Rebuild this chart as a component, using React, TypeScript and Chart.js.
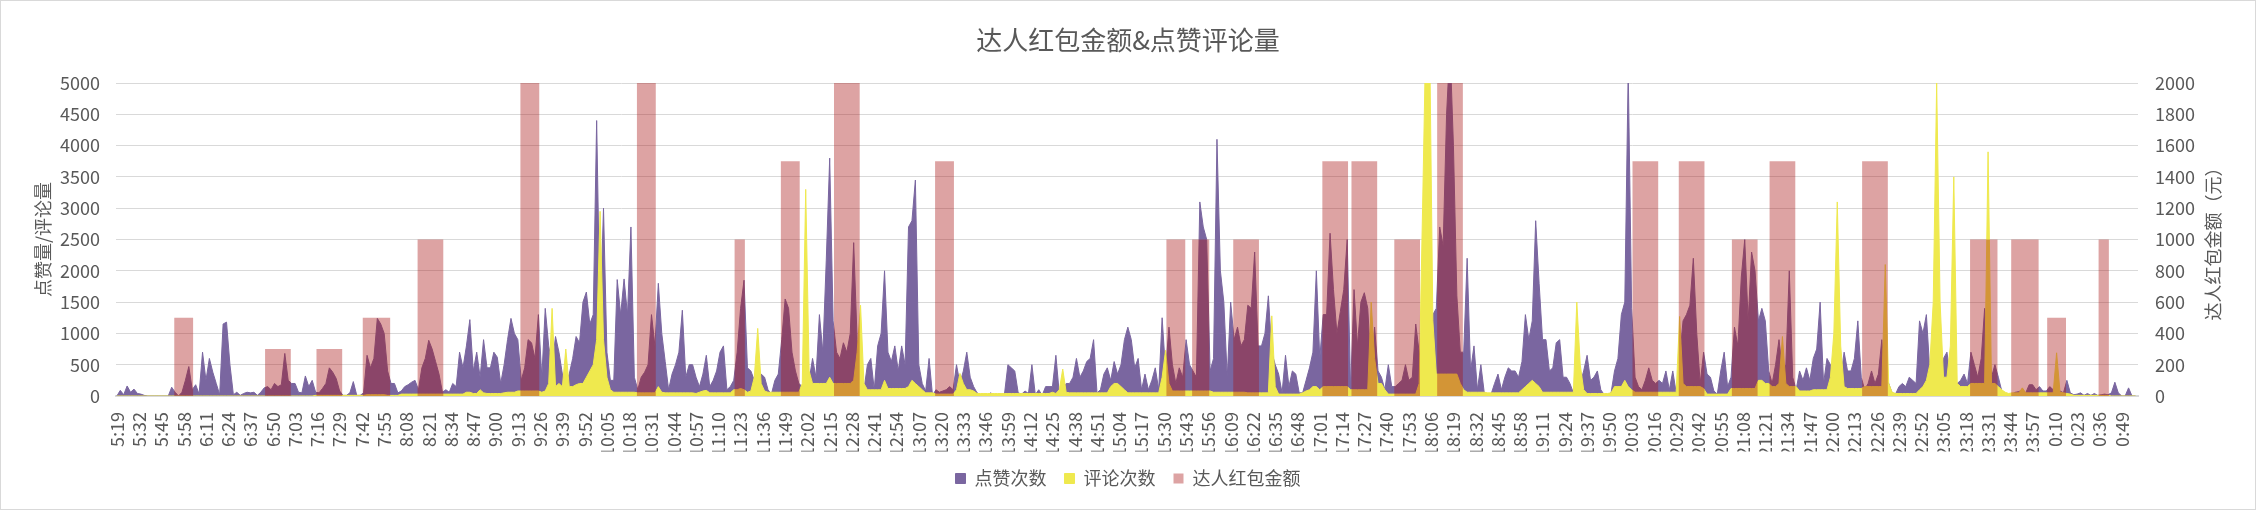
import React, { useEffect, useRef } from "react";
import { Chart, registerables } from "chart.js";

Chart.register(...registerables);

// ---------- data ----------
const chartTitle = "达人红包金额&点赞评论量";
const leftAxisTitle = "点赞量/评论量";
const rightAxisTitle = "达人红包金额（元）";
const seriesNames = ["点赞次数", "评论次数", "达人红包金额"];

const START_CLOCK = "5:19";
const SAMPLE_MINUTES = 2; // one value every 2 minutes, starting 5:19
const TICK_EVERY = 13; // one category label every 13 minutes

const xTickLabels = [
  "5:19", "5:32", "5:45", "5:58", "6:11", "6:24", "6:37", "6:50", "7:03", "7:16",
  "7:29", "7:42", "7:55", "8:08", "8:21", "8:34", "8:47", "9:00", "9:13", "9:26",
  "9:39", "9:52", "10:05", "10:18", "10:31", "10:44", "10:57", "11:10", "11:23", "11:36",
  "11:49", "12:02", "12:15", "12:28", "12:41", "12:54", "13:07", "13:20", "13:33", "13:46",
  "13:59", "14:12", "14:25", "14:38", "14:51", "15:04", "15:17", "15:30", "15:43", "15:56",
  "16:09", "16:22", "16:35", "16:48", "17:01", "17:14", "17:27", "17:40", "17:53", "18:06",
  "18:19", "18:32", "18:45", "18:58", "19:11", "19:24", "19:37", "19:50", "20:03", "20:16",
  "20:29", "20:42", "20:55", "21:08", "21:21", "21:34", "21:47", "22:00", "22:13", "22:26",
  "22:39", "22:52", "23:05", "23:18", "23:31", "23:44", "23:57", "0:10", "0:23", "0:36",
  "0:49",
];

// 点赞次数 (every 2 minutes)
const likes = [
  0, 90, 20, 160, 60, 110, 40, 30, 10, 0,
  0, 0, 0, 0, 0, 0, 140, 60, 0, 60,
  250, 470, 100, 180, 30, 700, 250, 600, 380, 200,
  20, 1150, 1180, 500, 20, 60, 10, 40, 60, 50,
  60, 10, 60, 130, 150, 100, 200, 150, 180, 680,
  250, 200, 200, 60, 50, 320, 150, 250, 60, 50,
  120, 200, 450, 380, 280, 80, 10, 10, 50, 230,
  10, 10, 50, 650, 450, 600, 1240, 1150, 1000, 400,
  200, 200, 50, 80, 150, 180, 220, 250, 100, 450,
  600, 890, 750, 550, 350, 60, 100, 60, 200, 150,
  700, 450, 800, 1220, 400, 700, 300, 900, 450, 450,
  700, 620, 200, 500, 900, 1240, 1000, 900, 250, 450,
  900, 850, 600, 1300, 300, 1400, 800, 500, 950, 700,
  350, 200, 350, 600, 950, 850, 1500, 1660, 1150, 1300,
  4400, 1200, 3000, 700, 250, 250, 1860, 1300, 1870, 1300,
  2700, 300, 100, 300, 380, 500, 1300, 800, 1800, 1000,
  550, 100, 350, 500, 700, 1370, 300, 500, 500, 300,
  150, 350, 650, 150, 250, 400, 700, 800, 100, 150,
  250, 700, 1400, 1850, 450, 400, 250, 200, 350, 300,
  100, 30, 250, 350, 900, 1550, 1400, 700, 400, 200,
  150, 150, 250, 600, 300, 1300, 700, 2170, 3800, 1200,
  700, 600, 850, 700, 1000, 2450, 900, 300, 100, 500,
  600, 100, 800, 1000, 2000, 700, 550, 800, 400, 800,
  500, 2700, 2800, 3450, 500, 200, 80, 600, 10, 100,
  60, 80, 100, 150, 100, 500, 200, 400, 700, 300,
  150, 50, 20, 20, 10, 50, 10, 10, 10, 30,
  500, 450, 400, 50, 30, 80, 40, 500, 20, 100,
  10, 150, 150, 150, 650, 30, 60, 200, 200, 300,
  600, 300, 400, 550, 600, 900, 50, 100, 350, 450,
  250, 550, 350, 500, 900, 1100, 900, 450, 600, 100,
  350, 100, 250, 450, 100, 1250, 400, 1100, 500, 200,
  450, 300, 900, 500, 400, 300, 3100, 2700, 2500, 400,
  600, 4100, 2000, 1500, 300, 1500, 900, 1100, 800, 900,
  1450, 1400, 2300, 800, 800, 1000, 1600, 700, 500, 350,
  50, 650, 150, 400, 350, 50, 50, 250, 450, 700,
  2000, 600, 1300, 1300, 2600, 1700, 1000, 1350, 1700, 2500,
  100, 1700, 800, 1500, 1650, 1400, 400, 1100, 400, 300,
  100, 500, 150, 150, 200, 250, 500, 250, 300, 1150,
  700, 300, 300, 800, 1300, 1400, 2700, 2400, 4500, 5600,
  4000, 1600, 700, 700, 2200, 400, 800, 100, 500, 50,
  30, 30, 200, 350, 100, 300, 450, 400, 400, 300,
  550, 1300, 900, 1200, 2800, 1800, 900, 900, 400, 450,
  850, 900, 300, 300, 200, 50, 100, 200, 400, 650,
  250, 300, 400, 100, 20, 20, 50, 400, 600, 1300,
  1500, 5200, 1400, 300, 150, 100, 250, 450, 250, 200,
  250, 200, 400, 100, 400, 50, 600, 1200, 1300, 1450,
  2200, 1000, 200, 700, 350, 300, 80, 30, 400, 700,
  150, 300, 1100, 800, 1900, 2500, 1200, 2300, 2000, 1200,
  1400, 1200, 400, 200, 500, 900, 400, 500, 2000, 300,
  100, 400, 250, 450, 250, 600, 750, 1500, 200, 600,
  500, 200, 200, 300, 700, 400, 400, 600, 1200, 300,
  100, 200, 400, 200, 350, 900, 300, 200, 50, 30,
  150, 200, 150, 300, 250, 200, 1200, 1000, 1300, 400,
  300, 300, 400, 600, 700, 300, 300, 200, 250, 350,
  200, 700, 500, 300, 600, 1400, 900, 300, 500, 300,
  80, 30, 20, 30, 60, 70, 100, 50, 180, 180,
  100, 150, 80, 80, 150, 100, 50, 80, 50, 250,
  50, 20, 30, 50, 10, 40, 10, 40, 10, 20,
  30, 20, 50, 220, 50, 0, 0, 130, 0, 0,
];

// 评论次数 (every 2 minutes)
const comments = [
  0, 0, 0, 0, 0, 0, 0, 0, 0, 0,
  0, 0, 0, 0, 0, 0, 0, 0, 0, 0,
  0, 0, 0, 0, 0, 0, 0, 0, 0, 0,
  0, 0, 0, 0, 0, 0, 0, 0, 0, 0,
  0, 0, 0, 0, 0, 0, 0, 0, 0, 0,
  0, 0, 0, 0, 0, 0, 0, 0, 10, 10,
  10, 10, 10, 10, 10, 10, 10, 10, 10, 10,
  10, 10, 10, 20, 20, 20, 20, 20, 20, 10,
  10, 10, 10, 30, 30, 30, 30, 30, 30, 30,
  30, 30, 30, 30, 30, 30, 30, 30, 30, 30,
  30, 30, 60, 60, 40, 40, 100, 50, 40, 40,
  40, 40, 40, 50, 60, 60, 60, 80, 80, 80,
  80, 80, 80, 80, 60, 80, 200, 1400, 150, 200,
  150, 750, 150, 150, 180, 200, 200, 300, 400, 500,
  900, 2950, 900, 300, 100, 60, 60, 60, 60, 60,
  60, 60, 50, 50, 50, 50, 50, 50, 150, 60,
  50, 50, 50, 50, 50, 50, 50, 50, 50, 40,
  60, 80, 90, 50, 50, 50, 50, 50, 50, 50,
  100, 100, 120, 100, 60, 80, 300, 1080, 200, 80,
  60, 60, 60, 60, 60, 60, 60, 60, 60, 60,
  200, 3300, 400, 200, 200, 200, 200, 200, 300, 200,
  200, 200, 200, 200, 200, 250, 700, 1450, 200, 100,
  100, 100, 100, 100, 250, 120, 120, 120, 120, 120,
  120, 150, 250, 200, 150, 100, 50, 50, 50, 30,
  30, 30, 30, 30, 30, 100, 360, 200, 100, 100,
  80, 40, 40, 40, 40, 40, 40, 40, 40, 40,
  40, 40, 40, 40, 40, 40, 40, 40, 40, 40,
  40, 40, 40, 60, 40, 100, 430, 60, 50, 50,
  50, 50, 50, 50, 50, 50, 50, 50, 50, 50,
  150, 200, 200, 150, 100, 50, 50, 50, 50, 50,
  50, 50, 50, 50, 50, 300, 730, 200, 80, 80,
  80, 80, 80, 80, 80, 80, 80, 80, 80, 80,
  60, 60, 60, 60, 60, 60, 60, 60, 60, 60,
  50, 50, 50, 50, 50, 50, 50, 1280, 150, 30,
  30, 30, 30, 30, 30, 30, 50, 80, 100, 150,
  150, 100, 150, 150, 150, 150, 150, 150, 150, 150,
  100, 100, 100, 100, 100, 100, 1500, 600, 200, 200,
  100, 30, 30, 30, 30, 30, 30, 30, 30, 30,
  200, 3000, 6000, 6000, 1200, 350, 350, 350, 350, 350,
  350, 350, 200, 100, 60, 60, 60, 60, 60, 60,
  50, 50, 50, 50, 50, 50, 50, 50, 50, 50,
  100, 150, 200, 250, 200, 150, 60, 60, 60, 60,
  60, 60, 60, 60, 60, 60, 1500, 500, 100, 40,
  40, 40, 40, 40, 40, 40, 50, 150, 150, 150,
  250, 150, 100, 60, 60, 60, 60, 60, 60, 60,
  60, 60, 60, 60, 60, 60, 1270, 200, 150, 150,
  150, 150, 150, 120, 30, 30, 30, 30, 30, 30,
  30, 120, 120, 120, 120, 120, 120, 120, 120, 250,
  250, 200, 200, 150, 150, 200, 950, 200, 150, 150,
  150, 80, 80, 80, 80, 100, 100, 100, 100, 100,
  300, 1000, 3100, 800, 150, 120, 120, 120, 120, 120,
  150, 150, 150, 150, 150, 150, 2100, 200, 60, 40,
  40, 40, 40, 40, 40, 40, 100, 150, 250, 500,
  1500, 5000, 1500, 300, 300, 800, 3500, 200, 150, 150,
  150, 200, 200, 200, 200, 200, 3900, 200, 200, 150,
  100, 60, 40, 50, 50, 50, 130, 50, 50, 50,
  50, 50, 50, 50, 50, 50, 690, 60, 50, 40,
  30, 10, 10, 10, 10, 10, 10, 10, 10, 10,
  10, 10, 0, 0, 0, 0, 0, 0, 0, 0,
];

// 达人红包金额: start time, duration (minutes), amount (元)
const redPacketStart = [
  "5:53", "6:46", "7:16", "7:43", "8:15", "9:15", "10:23", "11:20", "11:47",
  "12:18", "13:17", "15:32", "15:47", "16:11", "17:03", "17:20", "17:45", "18:10",
  "20:04", "20:31", "21:02", "21:24", "22:18", "23:21", "23:45", "0:06", "0:36",
];
const redPacketMinutes = [
  11, 15, 15, 16, 15, 11, 11, 6, 11,
  15, 11, 11, 10, 15, 15, 15, 15, 15,
  15, 15, 15, 15, 15, 16, 16, 11, 6,
];
const redPacketAmount = [
  500, 300, 300, 500, 1000, 2000, 2000, 1000, 1500,
  2000, 1500, 1000, 1000, 1000, 1500, 1500, 1000, 2000,
  1500, 1500, 1000, 1500, 1500, 1000, 1000, 500, 1000,
];

// ---------- style ----------
const W = 2256;
const H = 510;
const FONT = "'Noto Sans CJK SC', 'Noto Sans', sans-serif";
const TEXT = "#595959";
const GRID = "#D9D9D9";
const PURPLE = "#7A66A0";
const YELLOW = "#EFE94E";
const PINK = "rgba(167, 17, 17, 0.39)";

const PLOT_LEFT = 116;
const PLOT_RIGHT = 2138;
const PLOT_TOP = 83;
const PLOT_BOTTOM = 396;
const TITLE_SIZE = 26;
const TITLE_CENTER = 40;
const LEGEND_SIZE = 18;
const LEGEND_PAD = 18;
const LEGEND_CENTER = 478.5;

function clockToIndex(t: string): number {
  const [h, m] = t.split(":").map(Number);
  const [h0, m0] = START_CLOCK.split(":").map(Number);
  return (h * 60 + m - (h0 * 60 + m0) + 1440) % 1440;
}

export default function App() {
  const ref = useRef<HTMLCanvasElement>(null);

  useEffect(() => {
    if (!ref.current) return;
    const totalMinutes = likes.length * SAMPLE_MINUTES;
    const packet: number[] = new Array(totalMinutes).fill(0);
    redPacketStart.forEach((t, k) => {
      const s = clockToIndex(t);
      for (let j = 0; j < redPacketMinutes[k]; j++) packet[s + j] = redPacketAmount[k];
    });

    const likePts = likes.map((v, i) => ({ x: i * SAMPLE_MINUTES, y: v }));
    const commentPts = comments.map((v, i) => ({ x: i * SAMPLE_MINUTES, y: v }));
    const packetPts = packet.map((v, i) => ({ x: i, y: v }));

    const titleLine = TITLE_SIZE * 1.2;
    const titlePadTop = TITLE_CENTER - titleLine / 2;
    const titlePadBottom = PLOT_TOP - titlePadTop - titleLine;
    const legendItemH = LEGEND_SIZE;
    const legendHeight = legendItemH + LEGEND_PAD + 10;
    const bottomPad = H - (LEGEND_CENTER - LEGEND_PAD - legendItemH / 2) - legendHeight;
    const legendTop = H - bottomPad - legendHeight;
    const xAxisHeight = legendTop - PLOT_BOTTOM;

    const bgPlugin = {
      id: "bgBorder",
      beforeDraw(chart: any) {
        const c = chart.ctx;
        c.save();
        c.fillStyle = "#ffffff";
        c.fillRect(0, 0, chart.width, chart.height);
        c.restore();
      },
      afterDraw(chart: any) {
        const c = chart.ctx;
        c.save();
        c.strokeStyle = GRID;
        c.lineWidth = 1;
        c.strokeRect(0.5, 0.5, chart.width - 1, chart.height - 1);
        // right axis title, reading bottom-to-top like the reference
        const area = chart.chartArea;
        c.font = `18px ${FONT}`;
        c.fillStyle = TEXT;
        c.textAlign = "center";
        c.textBaseline = "middle";
        c.translate(2213, (area.top + area.bottom) / 2);
        c.rotate(-Math.PI / 2);
        c.fillText(rightAxisTitle, 0, 0);
        c.restore();
      },
    };

    const plain = (v: any) => String(v);

    const chart = new Chart(ref.current, {
      type: "line",
      data: {
        datasets: [
          {
            label: seriesNames[0],
            data: likePts,
            borderColor: PURPLE,
            backgroundColor: PURPLE,
            borderWidth: 1,
            pointRadius: 0,
            tension: 0,
            fill: "origin",
            yAxisID: "y",
            order: 3,
          },
          {
            label: seriesNames[1],
            data: commentPts,
            borderColor: YELLOW,
            backgroundColor: YELLOW,
            borderWidth: 1,
            pointRadius: 0,
            tension: 0,
            fill: "origin",
            yAxisID: "y",
            order: 2,
          },
          {
            label: seriesNames[2],
            data: packetPts,
            borderColor: "rgba(0,0,0,0)",
            backgroundColor: PINK,
            borderWidth: 0,
            pointRadius: 0,
            stepped: "middle",
            fill: "origin",
            yAxisID: "y1",
            order: 1,
          },
        ],
      },
      options: {
        responsive: false,
        animation: false,
        devicePixelRatio: 1,
        events: [],
        layout: { padding: { left: 0, right: 0, top: 0, bottom: bottomPad } },
        scales: {
          x: {
            type: "linear",
            min: -0.5,
            max: totalMinutes - 0.5,
            grid: { display: false },
            border: { display: true, color: GRID, width: 2 },
            afterBuildTicks: (scale: any) => {
              scale.ticks = xTickLabels.map((_, k) => ({ value: k * TICK_EVERY }));
            },
            afterFit: (scale: any) => {
              scale.height = xAxisHeight;
            },
            ticks: {
              autoSkip: false,
              maxRotation: 90,
              minRotation: 90,
              padding: 8,
              color: TEXT,
              font: { family: FONT, size: 18 },
              callback: (v: any) => xTickLabels[Math.round(Number(v) / TICK_EVERY)] ?? "",
            },
          },
          y: {
            position: "left",
            min: 0,
            max: 5000,
            grid: { color: GRID, lineWidth: 1, drawTicks: false },
            border: { display: false },
            ticks: {
              stepSize: 500,
              padding: 16,
              color: TEXT,
              font: { family: FONT, size: 18 },
              callback: plain,
            },
            title: {
              display: true,
              text: leftAxisTitle,
              color: TEXT,
              font: { family: FONT, size: 18 },
              padding: { top: 32, bottom: 0 },
            },
            afterFit: (scale: any) => {
              scale.width = PLOT_LEFT;
            },
          },
          y1: {
            position: "right",
            min: 0,
            max: 2000,
            grid: { display: false, drawTicks: false },
            border: { display: false },
            ticks: {
              stepSize: 200,
              padding: 17,
              color: TEXT,
              font: { family: FONT, size: 18 },
              callback: plain,
            },
            afterFit: (scale: any) => {
              scale.width = W - PLOT_RIGHT;
            },
          },
        },
        plugins: {
          title: {
            display: true,
            text: chartTitle,
            color: TEXT,
            font: { family: FONT, size: TITLE_SIZE, weight: "normal" },
            padding: { top: titlePadTop, bottom: titlePadBottom },
          },
          legend: {
            display: true,
            position: "bottom",
            labels: {
              boxWidth: 10,
              boxHeight: 10,
              padding: LEGEND_PAD,
              color: TEXT,
              font: { family: FONT, size: LEGEND_SIZE },
              sort: (a: any, b: any) => a.datasetIndex - b.datasetIndex,
            },
          },
          tooltip: { enabled: false },
        },
      } as any,
      plugins: [bgPlugin],
    });

    return () => chart.destroy();
  }, []);

  return (
    <div style={{ position: "absolute", left: 0, top: 0, width: W, height: H, background: "#fff" }}>
      <canvas ref={ref} width={W} height={H} style={{ display: "block", width: W, height: H }} />
    </div>
  );
}
